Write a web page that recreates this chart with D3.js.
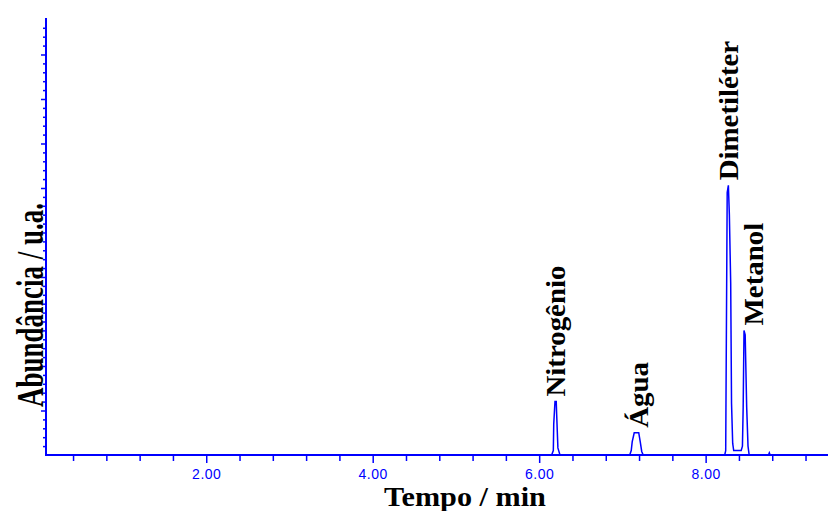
<!DOCTYPE html>
<html>
<head>
<meta charset="utf-8">
<script src="https://cdn.jsdelivr.net/npm/d3@7"></script>
<style>
  body { margin: 0; background: #fff; }
  svg { display: block; }
</style>
</head>
<body>
<div id="chromatogram"></div>
<script>
// retention time (min) and detector signal (a.u.)
const times = [0.075, 6.15, 6.17, 6.175, 6.19, 6.205, 6.21, 6.225, 6.25,
               7.088, 7.106, 7.118, 7.142, 7.196, 7.214, 7.232, 7.25,
               8.229, 8.241, 8.244, 8.259, 8.273, 8.285, 8.301, 8.311, 8.325, 8.337,
               8.427, 8.442, 8.451, 8.461, 8.475, 8.493, 8.509, 8.523,
               8.755, 8.765, 8.775, 9.47];
const abundance = [0, 0, 0.5, 3.5, 6.0, 6.0, 4.6, 0.8, 0,
                   0, 0.5, 1.5, 2.5, 2.5, 1.5, 0.4, 0,
                   0, 0.5, 5.4, 29.5, 30.3, 27.0, 19.3, 5.8, 1.3, 0.5,
                   0.5, 1.0, 5.4, 14.0, 13.5, 5.4, 1.0, 0,
                   0, 0.25, 0, 0];

// peak labels: name, where the label baseline sits (min), and peak height
const peakNames = ["Nitrogênio", "Água", "Dimetiléter", "Metanol"];
const peakLabelTime = [6.31, 7.31, 8.39, 8.685];
const peakTop = [6.0, 2.5, 30.3, 14.0];

const xMajor = [2, 4, 6, 8];
const xTickLabels = ["2.00", "4.00", "6.00", "8.00"];

const width = 828, height = 511;
const margin = {top: 18, right: 0, bottom: 56, left: 46};
const blue = "#0000ff";

const svg = d3.select("#chromatogram").append("svg")
    .attr("width", width)
    .attr("height", height)
    .style("background", "#fff");

const x = d3.scaleLinear().domain([0.075, 9.47]).range([margin.left, width - margin.right]);
const y = d3.scaleLinear().domain([0, 49.1]).range([height - margin.bottom, margin.top]);

// x axis: minor ticks every 0.4 min, labelled ticks every 2 min
const xMinor = d3.range(0.4, 9.41, 0.4).filter(v => !xMajor.some(m => Math.abs(m - v) < 1e-6));
const gx = svg.append("g").attr("transform", "translate(0," + y(0) + ")");
gx.call(d3.axisBottom(x).tickValues(xMinor).tickSize(6).tickFormat(""));
gx.append("g")
    .call(d3.axisBottom(x).tickValues(xMajor).tickSize(8)
        .tickFormat((d, i) => xTickLabels[i]).tickPadding(6));

// y axis: small ticks every unit, longer ones every 5
const gy = svg.append("g").attr("transform", "translate(" + margin.left + ",0)");
gy.call(d3.axisLeft(y).tickValues(d3.range(1, 49, 1).filter(v => v % 5)).tickSize(3).tickFormat(""));
gy.append("g").call(d3.axisLeft(y).tickValues(d3.range(5, 49, 5)).tickSize(5).tickFormat(""));

svg.selectAll(".tick line").attr("stroke", blue).attr("stroke-width", 1.5);
svg.selectAll(".tick text")
    .attr("fill", blue)
    .style("font-family", "'Liberation Sans', Arial, sans-serif")
    .style("font-size", "14px")
    .style("letter-spacing", "0.5px");

// redraw the two axis lines cleanly so they meet at the corner
svg.selectAll(".domain").remove();
svg.append("line")
    .attr("x1", margin.left).attr("x2", width)
    .attr("y1", y(0)).attr("y2", y(0))
    .attr("stroke", blue).attr("stroke-width", 2);
svg.append("line")
    .attr("x1", margin.left).attr("x2", margin.left)
    .attr("y1", margin.top).attr("y2", y(0) + 1)
    .attr("stroke", blue).attr("stroke-width", 2);

// the trace
const line = d3.line()
    .x((d, i) => x(times[i]))
    .y(d => y(d));

svg.append("path")
    .datum(abundance)
    .attr("fill", "none")
    .attr("stroke", blue)
    .attr("stroke-width", 1.5)
    .attr("d", line);

// peak names, written upwards just above each peak
const labelFont = "'Liberation Serif', 'Times New Roman', serif";
svg.selectAll(".peak-label")
    .data(peakNames)
    .enter()
    .append("text")
    .attr("class", "peak-label")
    .attr("transform", (d, i) => "translate(" + x(peakLabelTime[i]) + "," + (y(peakTop[i]) - 5) + ") rotate(-90) scale(1.07,1)")
    .attr("text-anchor", "start")
    .style("font-family", labelFont)
    .style("font-weight", "bold")
    .style("font-size", "27px")
    .text(d => d);

// axis titles (the original glyphs are drawn taller / wider than plain Times)
svg.append("text")
    .attr("transform", "translate(43,305) rotate(-90) scale(1,1.4)")
    .attr("text-anchor", "middle")
    .style("font-family", labelFont)
    .style("font-weight", "bold")
    .style("font-size", "27px")
    .text("Abundância / u.a.");

svg.append("text")
    .attr("transform", "translate(465,506) scale(1.12,1)")
    .attr("text-anchor", "middle")
    .style("font-family", labelFont)
    .style("font-weight", "bold")
    .style("font-size", "27px")
    .text("Tempo / min");
</script>
</body>
</html>
